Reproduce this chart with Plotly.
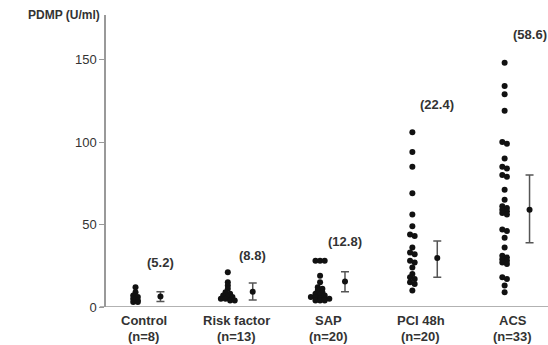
import plotly.graph_objects as go
import numpy as np

categories = ["Control", "Risk factor", "SAP", "PCI 48h", "ACS"]
n_labels = ["(n=8)", "(n=13)", "(n=20)", "(n=20)", "(n=33)"]
mean_labels = ["(5.2)", "(8.8)", "(12.8)", "(22.4)", "(58.6)"]

control = [12, 9, 7, 6, 5, 4, 3, 3]
risk_factor = [21, 15, 13, 11, 9, 8, 7, 6, 6, 5, 5, 4, 4]
sap = [28, 28, 28, 19, 15, 12, 11, 10, 9, 8, 7, 7, 6, 6, 5, 5, 5, 4, 4, 4]
pci_48h = [106, 94, 85, 69, 56, 49, 44, 43, 36, 33, 32, 28, 27, 24, 20, 18, 17, 15, 14, 10]
acs = [148, 134, 129, 119, 100, 99, 90, 85, 84, 80, 79, 71, 65, 61, 60, 59, 58, 57, 56,
       47, 46, 42, 36, 31, 30, 29, 28, 27, 26, 18, 17, 13, 9]
groups = [control, risk_factor, sap, pci_48h, acs]

err_center = [6.3, 9.3, 15.4, 29.7, 59]
err_plus = [3.0, 5.2, 6.0, 10.3, 21]
err_minus = [3.0, 5.1, 6.1, 11.7, 20]
label_y = [27, 31.5, 39.5, 123, 165]

DOT_OFF = -0.04
ERR_OFF = 0.23
BIN = 2.0
STEP = 0.05

xs, ys = [], []
for i, vals in enumerate(groups):
    v = sorted(vals, reverse=True)
    bins = []
    for val in v:
        if bins and abs(bins[-1][0] - val) < BIN:
            bins[-1].append(val)
        else:
            bins.append([val])
    for b in bins:
        k = len(b)
        for j, val in enumerate(b):
            xs.append(i + 1 + DOT_OFF + (j - (k - 1) / 2) * STEP)
            ys.append(val)

fig = go.Figure()
fig.add_trace(go.Scatter(x=xs, y=ys, mode="markers",
                         marker=dict(color="#111", size=6, line=dict(width=0)),
                         cliponaxis=False, showlegend=False))
ex = [i + 1 + ERR_OFF for i in range(len(categories))]
fig.add_trace(go.Scatter(x=ex, y=err_center, mode="markers",
                         marker=dict(color="#111", size=6),
                         error_y=dict(type="data", array=err_plus, arrayminus=err_minus,
                                      color="#555", thickness=1.5, width=4),
                         cliponaxis=False, showlegend=False))

font = "Liberation Sans, Arial, sans-serif"
ann = []
for i in range(len(categories)):
    ann.append(dict(x=i + 1 + ERR_OFF, y=label_y[i], text="<b>" + mean_labels[i] + "</b>",
                    showarrow=False, font=dict(family=font, size=13, color="#333")))
    ann.append(dict(x=i + 1 + 0.05, y=0, yref="y", text="<b>" + categories[i] + "</b>",
                    showarrow=False, yshift=-13, font=dict(family=font, size=13, color="#333")))
    ann.append(dict(x=i + 1 + 0.05, y=0, yref="y", text="<b>" + n_labels[i] + "</b>",
                    showarrow=False, yshift=-29, font=dict(family=font, size=13, color="#333")))
ann.append(dict(x=-0.01, y=1.0, xref="paper", yref="paper", xanchor="right", yanchor="middle",
                text="<b>PDMP (U/ml)</b>", showarrow=False,
                font=dict(family=font, size=12, color="#333")))

fig.update_layout(
    width=548, height=345,
    margin=dict(l=106, r=0, t=15, b=38),
    paper_bgcolor="white", plot_bgcolor="white",
    annotations=ann,
    xaxis=dict(range=[0.64, 5.43], showticklabels=False, showgrid=False, zeroline=False,
               showline=False, ticks=""),
    yaxis=dict(range=[0, 177], tickvals=[0, 50, 100, 150], showgrid=False, zeroline=False,
               showline=True, linecolor="#999", linewidth=1.5, ticks="outside", ticklen=5,
               tickcolor="#999", tickfont=dict(family=font, size=13, color="#333"),
               tickprefix="<b>", ticksuffix="</b>"),
    shapes=[dict(type="line", xref="paper", yref="y", x0=-0.014, x1=1, y0=0, y1=0,
                 line=dict(color="#999", width=1.5))],
)
fig.write_html("out.html")
